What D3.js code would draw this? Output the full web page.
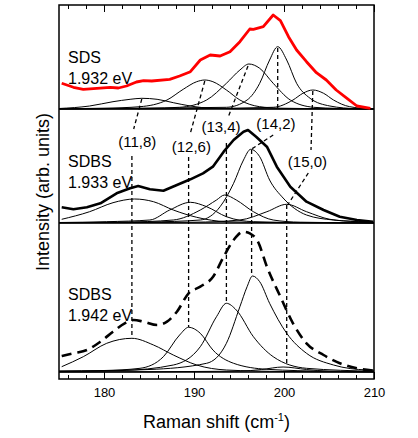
<!DOCTYPE html>
<html>
<head>
<meta charset="utf-8">
<script src="https://cdn.jsdelivr.net/npm/d3@7"></script>
<style>
  body { margin: 0; background: #fff; }
  svg { display: block; font-family: "Liberation Sans", Arial, sans-serif; }
</style>
</head>
<body>
<svg width="418" height="438"></svg>
<script>
// [Raman shift (cm-1), intensity above panel baseline (arb. units)]
const sdsSpectrum = [[175.3,25.7],[176.6,21.7],[177.7,19.7],[179.2,20.7],[180.7,21.7],[181.6,21],[182.5,23],[183.6,27],[184.4,28.3],[185.3,28],[187.3,29.7],[188.4,33],[189.6,37.3],[190.7,49],[191.8,54],[192.9,53],[194,57.3],[195.1,67.3],[196.2,80],[196.6,79.7],[197.7,82.3],[198.8,94],[199.6,88.3],[200.5,72.3],[201.4,59],[202.5,47.3],[203.6,36.3],[204.7,29],[205.8,19],[207,10.7],[208.1,3],[209.6,0.7]];
const sdsComponents = [
  [[175,0.5],[178.4,3],[181.0,7.3],[182.9,9.7],[184.2,10.7],[185.9,9.7],[187.7,6.3],[189.6,3],[192.1,0.7],[197,0.2],[210,0]],
  [[175,0.3],[180,0.8],[184,2.3],[187,9],[188.8,19.7],[190.3,27.3],[191.2,29],[192.1,27.3],[193.6,19],[195.1,9],[197.3,2.3],[199.6,0.8],[205,0.3],[210,0.1]],
  [[175,0.2],[185,0.8],[188.4,1.7],[191.4,9],[193.6,25.7],[195.1,39],[196.1,45],[197.3,40.7],[198.8,25.7],[200.7,9],[203.3,1.7],[206,0.6],[210,0.2]],
  [[175,0.2],[193.6,1.7],[195.9,9],[197.3,25.7],[198.4,49],[199.3,62.3],[200.3,49],[201.4,25.7],[202.9,10.7],[205.1,3],[208.1,0.3],[210,0.1]],
  [[175,0],[188,0.2],[198.8,1.7],[201,9],[202.1,15.7],[203.2,19],[204.4,15.7],[205.5,9],[207.3,2.3],[209.6,0.3],[210,0.2]]
];

const sdbs1933Spectrum = [[175.3,15.7],[176.6,13.7],[178.1,15.7],[179.6,19.7],[181.4,29.7],[182.9,34.7],[183.8,37],[185.1,33.7],[186.6,32.3],[188.1,38],[189.6,43.7],[191.0,49.7],[192.1,56.3],[193.3,71.3],[194.4,83],[195.5,91.3],[196.0,93],[196.9,86.3],[198.1,76.3],[199.2,56.3],[200.7,36.3],[202.5,21.3],[204.4,13],[206.2,6.3],[208.1,3],[209.9,1.3]];
const sdbs1933Components = [
  [[175.3,3.7],[178.4,11.3],[181.0,20.3],[183.4,24],[185.5,21.3],[187.7,13],[190.3,5.7],[193.6,1.3],[200,0.3],[210,0]],
  [[175,0.5],[180.3,1.3],[185.1,3],[187.3,13],[189.6,20.7],[191.4,16.3],[193.6,6.3],[196.6,1.3],[203,0.3],[210,0]],
  [[175,0.3],[182,0.8],[187.7,3],[190.7,13],[192.5,23],[193.4,28],[194.7,23],[196.6,11.3],[198.8,3],[201.8,0.8],[210,0.1]],
  [[175,0.3],[185,1],[190.7,3],[192.9,16.3],[194.4,39.7],[195.5,63],[196.3,73.7],[197.3,66.3],[198.4,43],[199.9,25],[202.5,8],[205.5,3],[209.2,1.3]],
  [[175,0.2],[190,0.8],[195.1,3],[198.1,11.3],[200.3,18.7],[202.5,11.3],[205.1,3.7],[208.1,1.3],[210,0.8]]
];

const sdbs1942Spectrum = [[175.3,16],[176.6,18.7],[178.1,22],[179.6,30.3],[181,40.3],[182.3,48.7],[183.3,52],[184.4,50.3],[185.9,47],[187,50.3],[188.1,60.3],[189.4,78.7],[190.7,85.3],[192.1,95],[193.3,115.3],[194.4,132],[195.5,140.3],[196.2,138.7],[197.1,130.3],[198.1,105.3],[199.6,75.3],[201,48.7],[202.5,28.7],[204.4,17],[206.2,8.7],[208.1,3.7],[209.9,1.3]];
const sdbs1942Components = [
  [[175.3,5.3],[177.7,15.3],[180.3,28.7],[183.1,33.7],[185.5,27],[187.7,17],[190.3,7],[193.6,2],[200,0.5],[210,0]],
  [[175,1],[180,1.5],[184,3.7],[186.6,15.3],[188.4,37],[189.4,44.7],[190.7,38.7],[192.1,22],[194.4,8.7],[198.1,2.7],[205,0.7],[210,0.3]],
  [[175,0.5],[182,1.5],[187.7,7],[190.7,25.3],[192.5,55.3],[193.6,68.7],[194.7,62],[196.6,35.3],[198.8,15.3],[202.5,3.7],[210,0.8]],
  [[175,0.8],[185,2.5],[191.4,8.7],[193.6,28.7],[195.1,65.3],[195.9,85.3],[196.5,96],[197.3,90.3],[198.4,68.7],[200.3,38.7],[202.5,18.7],[205.5,7],[209.2,2],[210,1.8]],
  [[175,0],[195,0.8],[197.5,2.5],[199.9,5],[202.5,2.5],[205,0.8],[210,0.2]]
];

const panelNames = ["SDS", "SDBS", "SDBS"];
const laserEnergies = ["1.932 eV", "1.933 eV", "1.942 eV"];
const panelOffsets = [270, 156, 7];   // baseline of each panel on the intensity axis

const chiralities = ["(11,8)", "(12,6)", "(13,4)", "(14,2)", "(15,0)"];
const chiralityAt = [[183.7,232], [189.7,227], [193.0,247], [199.1,250], [202.6,212]];

// dashed guides: [shift, intensity] pairs on the full axis
const guides = [
  [[184.2,280],[183.3,250]], [[183.1,223],[183.1,41]],
  [[191.2,298],[189.6,246]], [[189.4,222],[189.4,52]],
  [[196.0,313],[193.8,262]], [[193.6,236],[193.6,76]],
  [[199.3,331],[199.3,269]], [[198.8,244],[196.4,230]], [[196.4,229],[196.4,103]],
  [[203.2,288],[203.0,229]], [[202.7,206],[200.4,174]], [[200.3,174],[200.3,13]]
];

const majorTicks = [180, 190, 200, 210];
const minorTicks = d3.range(176, 210, 2);

var svg = d3.select("svg");
var mLeft = 59, mRight = 374, mTop = 5, mBottom = 379;

var x = d3.scaleLinear().domain([175, 210]).range([mLeft, mRight]);
var y = d3.scaleLinear().domain([0, 374]).range([mBottom, mTop]);

svg.append("clipPath").attr("id", "frame")
  .append("rect").attr("x", mLeft).attr("y", mTop)
  .attr("width", mRight - mLeft).attr("height", mBottom - mTop);

var plot = svg.append("g").attr("clip-path", "url(#frame)");

function lineFor(offset, curve) {
  return d3.line()
    .x(d => x(d[0]))
    .y(d => y(d[1] + offset))
    .curve(curve);
}

// baselines
panelOffsets.forEach(off => {
  plot.append("line")
    .attr("x1", mLeft).attr("x2", mRight)
    .attr("y1", y(off)).attr("y2", y(off))
    .attr("stroke", "#000").attr("stroke-width", 1.6);
});

var comps = [sdsComponents, sdbs1933Components, sdbs1942Components];
comps.forEach((set, i) => {
  plot.selectAll(null).data(set).enter().append("path")
    .attr("d", lineFor(panelOffsets[i], d3.curveMonotoneX))
    .attr("fill", "none")
    .attr("stroke", "#000")
    .attr("stroke-width", 1);
});

// guides
plot.selectAll(".guide").data(guides).enter().append("path")
  .attr("class", "guide")
  .attr("d", d3.line().x(d => x(d[0])).y(d => y(d[1])))
  .attr("fill", "none")
  .attr("stroke", "#000")
  .attr("stroke-width", 1.3)
  .attr("stroke-dasharray", "4,3");

// measured spectra
plot.append("path")
  .attr("d", lineFor(panelOffsets[0], d3.curveLinear)(sdsSpectrum))
  .attr("fill", "none").attr("stroke", "#f00").attr("stroke-width", 2.8)
  .attr("stroke-linejoin", "round");

plot.append("path")
  .attr("d", lineFor(panelOffsets[1], d3.curveLinear)(sdbs1933Spectrum))
  .attr("fill", "none").attr("stroke", "#000").attr("stroke-width", 2.6)
  .attr("stroke-linejoin", "round");

plot.append("path")
  .attr("d", lineFor(panelOffsets[2], d3.curveMonotoneX)(sdbs1942Spectrum))
  .attr("fill", "none").attr("stroke", "#000").attr("stroke-width", 2.6)
  .attr("stroke-dasharray", "10,6");

// chirality labels
svg.selectAll(".chir").data(chiralities).enter().append("text")
  .attr("class", "chir")
  .attr("x", (d, i) => x(chiralityAt[i][0]))
  .attr("y", (d, i) => y(chiralityAt[i][1]))
  .attr("text-anchor", "middle")
  .style("font-size", "15px")
  .text(d => d);

// panel labels
panelNames.forEach((name, i) => {
  var base = [316, 212, 79][i];
  svg.append("text").attr("x", x(176)).attr("y", y(base))
    .style("font-size", "16px").text(name);
  svg.append("text").attr("x", x(176)).attr("y", y(base - 21))
    .style("font-size", "16px").text(laserEnergies[i]);
});

// axes
svg.append("g")
  .attr("transform", `translate(0,${mBottom})`)
  .call(d3.axisBottom(x).tickValues(minorTicks).tickSize(-4).tickFormat(""))
  .call(g => g.select(".domain").remove());
svg.append("g")
  .attr("transform", `translate(0,${mBottom})`)
  .call(d3.axisBottom(x).tickValues(majorTicks).tickSize(-7).tickPadding(9).tickFormat(d3.format("d")))
  .call(g => g.select(".domain").remove())
  .call(g => g.selectAll("text").style("font-size", "13px").attr("font-family", null));
svg.append("g")
  .attr("transform", `translate(0,${mTop})`)
  .call(d3.axisTop(x).tickValues(minorTicks).tickSize(-4).tickFormat(""))
  .call(g => g.select(".domain").remove());
svg.append("g")
  .attr("transform", `translate(0,${mTop})`)
  .call(d3.axisTop(x).tickValues(majorTicks).tickSize(-7).tickFormat(""))
  .call(g => g.select(".domain").remove());

svg.append("rect")
  .attr("x", mLeft).attr("y", mTop)
  .attr("width", mRight - mLeft).attr("height", mBottom - mTop)
  .attr("fill", "none").attr("stroke", "#000").attr("stroke-width", 1.5);

var xl = svg.append("text")
  .attr("x", (mLeft + mRight) / 2).attr("y", 428)
  .attr("text-anchor", "middle")
  .style("font-size", "18px");
xl.append("tspan").text("Raman shift (cm");
xl.append("tspan").attr("dy", -7).style("font-size", "11px").text("-1");
xl.append("tspan").attr("dy", 7).text(")");

svg.append("text")
  .attr("transform", `translate(49,${(mTop + mBottom) / 2}) rotate(-90)`)
  .attr("text-anchor", "middle")
  .style("font-size", "18px")
  .text("Intensity (arb. units)");
</script>
</body>
</html>
